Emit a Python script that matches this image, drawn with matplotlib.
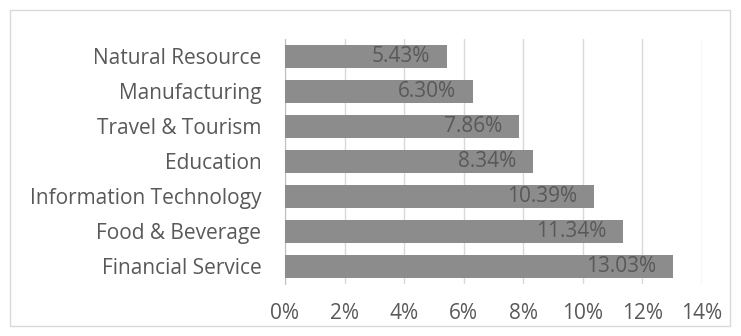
import matplotlib.pyplot as plt
from matplotlib.patches import Rectangle

categories = ['Natural Resource', 'Manufacturing', 'Travel & Tourism', 'Education',
              'Information Technology', 'Food & Beverage', 'Financial Service']
values = [5.43, 6.30, 7.86, 8.34, 10.39, 11.34, 13.03]
xticks = [0, 2, 4, 6, 8, 10, 12, 14]

plt.rcParams['font.family'] = ['Open Sans', 'DejaVu Sans']
txt = '#595959'
fs = 15

fig = plt.figure(figsize=(7.41, 3.36), dpi=100)
ax = fig.add_axes([0.3846, 0.155, 0.5625, 0.729])

ypos = list(range(len(categories)))[::-1]
ax.barh(ypos, values, height=0.66, color='#8c8c8c', zorder=3)
for y, v in zip(ypos, values):
    ax.annotate(f'{v:.2f}%', (v, y), xytext=(-12, 0), textcoords='offset points',
                ha='right', va='center', fontsize=fs, color=txt, zorder=4)

ax.set_yticks(ypos)
ax.set_yticklabels(categories, fontsize=fs, color=txt)
ax.set_ylim(-0.5, len(categories) - 0.5)
ax.set_xlim(0, 14)
ax.set_xticks(xticks)
ax.set_xticklabels([f'{t}%' for t in xticks], fontsize=fs, color=txt)
ax.tick_params(length=0)
ax.tick_params(axis='y', pad=17)
ax.tick_params(axis='x', pad=14)
ax.grid(axis='x', color='#d9d9d9', linewidth=1, zorder=0)
for s in ['top', 'right', 'bottom']:
    ax.spines[s].set_visible(False)
ax.spines['left'].set_color('#bfbfbf')

fig.patches.append(Rectangle((10 / 741, 10 / 336), 720 / 741, 316 / 336, transform=fig.transFigure,
                             fill=False, edgecolor='#d9d9d9', linewidth=1))

fig.savefig('out.png', dpi=100)
